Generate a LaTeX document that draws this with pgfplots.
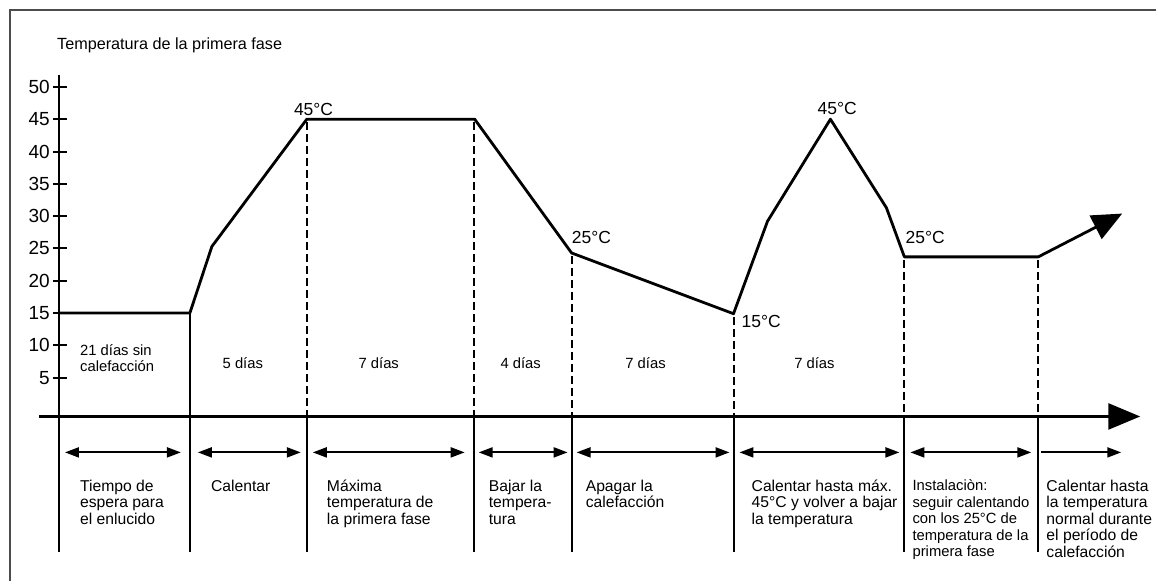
\documentclass[border=0pt]{standalone}
\usepackage{fontspec}
\setmainfont{Liberation Sans}
\usepackage{pgfplots}
\pgfplotsset{compat=1.18}
\usetikzlibrary{arrows.meta}
\begin{document}
\begin{tikzpicture}
\begin{axis}[
  hide axis, scale only axis, width=1157pt, height=581pt,
  xmin=0, xmax=1157, ymin=-26.4, ymax=63.45, clip=false,
]
% full extent (invisible)
\addplot[draw=none] coordinates {(0,-26.4) (1157,63.45)};
% frame (top and left)
\addplot[gray!60!black, line width=1.6pt] coordinates {(10,-26.4) (10,61.9) (1157,61.9)};
% y axis
\addplot[black, line width=2pt] coordinates {(59,51.85) (59,-21.9)};
\pgfplotsinvokeforeach{5,10,15,20,25,30,35,40,45,50}{
  \addplot[black, line width=2pt] coordinates {(53,#1) (67,#1)};
  \node[anchor=east, inner sep=0pt, font=\fontsize{19}{21}\selectfont] at (axis cs:50,#1) {#1};
}
% x axis
\addplot[black, line width=2.8pt, -{Triangle[length=32pt,width=26pt]}] coordinates {(39,-1) (1141,-1)};
% solid separators
\addplot[black, line width=2pt] coordinates {(190,15) (190,-21.9)};
\pgfplotsinvokeforeach{307,474,572,734,905,1039}{
  \addplot[black, line width=2pt] coordinates {(#1,-1) (#1,-21.9)};
}
% dashed separators
\pgfplotsset{dsh/.style={black, line width=2pt, dash pattern=on 8pt off 4pt}}
\addplot[dsh] coordinates {(307,44.5) (307,-1)};
\addplot[dsh] coordinates {(474,44.5) (474,-1)};
\addplot[dsh] coordinates {(572,23.8) (572,-1)};
\addplot[dsh] coordinates {(734,14.4) (734,-1)};
\addplot[dsh] coordinates {(905,23.2) (905,-1)};
\addplot[dsh] coordinates {(1039,23.2) (1039,-1)};
% temperature curve
\addplot[black, line width=2.8pt, line join=round, -{Triangle[length=30pt,width=26pt]}] coordinates {
  (59,15) (190,15) (212,25.3) (307,45) (475,45) (572,24.3) (734,14.9)
  (768,29.2) (831,45) (887,31.3) (905,23.7) (1039,23.7) (1123,30.4)};
% double arrows
\pgfplotsset{dbl/.style={black, line width=2pt, {Triangle[length=14pt,width=10pt]}-{Triangle[length=14pt,width=10pt]}}}
\addplot[dbl] coordinates {(65,-6.56) (181,-6.56)};
\addplot[dbl] coordinates {(198,-6.56) (301,-6.56)};
\addplot[dbl] coordinates {(313,-6.56) (465,-6.56)};
\addplot[dbl] coordinates {(479,-6.56) (568,-6.56)};
\addplot[dbl] coordinates {(577,-6.56) (730,-6.56)};
\addplot[dbl] coordinates {(740,-6.56) (900,-6.56)};
\addplot[dbl] coordinates {(911,-6.56) (1032,-6.56)};
\addplot[black, line width=2pt, -{Triangle[length=14pt,width=10pt]}] coordinates {(1042,-6.56) (1122,-6.56)};
% title
\node[anchor=base west, inner sep=0pt, font=\fontsize{16.2}{18}\selectfont] at (axis cs:57,55.8) {Temperatura de la primera fase};
% degree labels
\begin{scope}[every node/.style={anchor=base west, inner sep=0pt, font=\fontsize{17.5}{19}\selectfont}]
\node at (axis cs:294,45.6) {45°C};
\node at (axis cs:818,45.7) {45°C};
\node at (axis cs:572,25.7) {25°C};
\node at (axis cs:906,25.7) {25°C};
\node at (axis cs:742,12.7) {15°C};
\end{scope}
% day labels
\begin{scope}[every node/.style={inner sep=0pt, font=\fontsize{14.8}{16}\selectfont}]
\node[anchor=west, align=left] at (axis cs:80,8.1) {21 días sin\\calefacción};
\node at (axis cs:243,7.3) {5 días};
\node at (axis cs:379,7.3) {7 días};
\node at (axis cs:521,7.3) {4 días};
\node at (axis cs:646,7.3) {7 días};
\node at (axis cs:815,7.3) {7 días};
\end{scope}
% bottom descriptions
\begin{scope}[every node/.style={anchor=north west, align=left, inner sep=0pt, font=\fontsize{15.7}{16.5}\selectfont}]
\node at (axis cs:80,-10.78) {Tiempo de\\espera para\\el enlucido};
\node at (axis cs:211,-10.78) {Calentar};
\node at (axis cs:327,-10.78) {Máxima\\temperatura de\\la primera fase};
\node at (axis cs:489,-10.78) {Bajar la\\tempera-\\tura};
\node at (axis cs:586,-10.78) {Apagar la\\calefacción};
\node at (axis cs:752,-10.78) {Calentar hasta máx.\\45°C y volver a bajar\\la temperatura};
\node[font=\fontsize{14.8}{16.5}\selectfont] at (axis cs:913,-10.78) {Instalaciòn:\\seguir calentando\\con los 25°C de\\temperatura de la\\primera fase};
\node at (axis cs:1047,-10.78) {Calentar hasta\\la temperatura\\normal durante\\el período de\\calefacción};
\end{scope}
\end{axis}
\end{tikzpicture}
\end{document}
